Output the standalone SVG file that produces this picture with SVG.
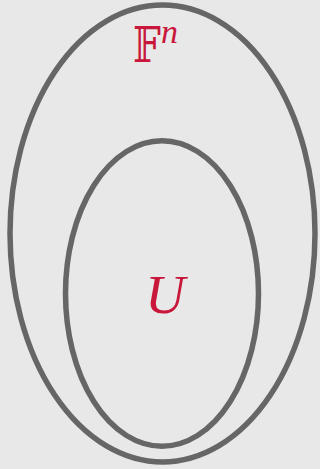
<svg xmlns="http://www.w3.org/2000/svg" width="320" height="469" viewBox="0 0 320 469">
<style>
.set{fill:none;stroke:#666;stroke-width:5.5}
.lbl{fill:#c8173a;font-family:"Liberation Serif","DejaVu Serif",serif}
</style>
<rect width="320" height="469" fill="#e8e8e8"/>
<g id="Fn">
<ellipse class="set" cx="162.5" cy="233.5" rx="152.5" ry="228.5"/>
<text class="lbl" transform="translate(133,62) scale(0.8,1)" font-family="DejaVu Serif, DejaVu Sans, serif" font-size="49">𝔽</text>
<text class="lbl" x="161" y="43" font-style="italic" font-size="34">n</text>
</g>
<g id="U">
<ellipse class="set" cx="162" cy="293.5" rx="96.5" ry="152.7"/>
<text class="lbl" x="165" y="313" text-anchor="middle" font-style="italic" font-size="55">U</text>
</g>
</svg>
